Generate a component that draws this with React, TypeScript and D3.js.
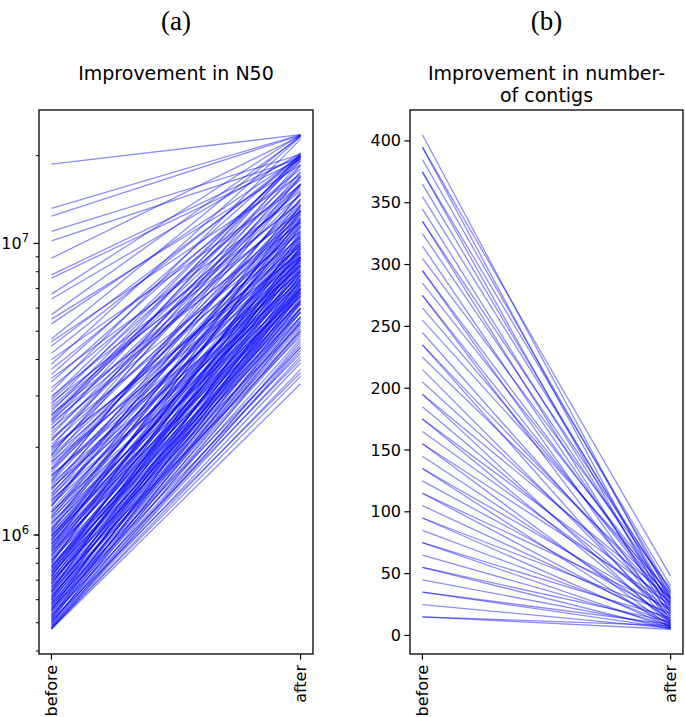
import React from "react";
import * as d3 from "d3";

// Panel (a): N50 before / after (in Mbp)
const n50BeforeMb = [
  18.7, 13.2, 12.4, 11.0, 10.2, 8.9, 7.8, 7.6, 6.7, 6.45, 5.7, 5.5, 5.3, 4.7, 4.6, 4.45, 4.2, 4.0,
  3.85, 3.7, 3.55, 3.45, 3.35, 3.2, 3.1, 3.0, 2.95, 2.9, 2.85, 2.8, 2.75, 2.7, 2.65, 2.6, 2.58, 2.55, 2.5, 2.48, 2.45, 2.42,
  2.38, 2.33, 2.3, 2.25, 2.2, 2.15, 2.1, 2.05, 2.0, 1.97, 1.94, 1.9, 1.87, 1.84, 1.8, 1.77, 1.74, 1.7, 1.67, 1.64,
  1.61, 1.58, 1.55, 1.52, 1.5, 1.47, 1.44, 1.42, 1.39, 1.36, 1.34, 1.31, 1.29, 1.27, 1.25, 1.22, 1.2, 1.18, 1.16,
  1.14, 1.12, 1.1, 1.08, 1.06, 1.04, 1.03, 1.02, 1.01, 1.0,
  0.99, 0.98, 0.97, 0.96, 0.95, 0.94, 0.93, 0.92, 0.91, 0.9, 0.89, 0.88, 0.87, 0.86, 0.85, 0.84, 0.83, 0.82, 0.81,
  0.8, 0.79, 0.78, 0.775, 0.77, 0.76, 0.75, 0.745, 0.74, 0.73, 0.725, 0.72, 0.71, 0.705, 0.7, 0.69, 0.685, 0.68,
  0.67, 0.665, 0.66, 0.65, 0.645, 0.64, 0.635, 0.63, 0.62, 0.615, 0.61, 0.605, 0.6, 0.595, 0.59, 0.585, 0.58,
  0.575, 0.57, 0.565, 0.56, 0.555, 0.55, 0.545, 0.54, 0.535, 0.53, 0.525, 0.52, 0.515, 0.51, 0.505, 0.5, 0.498,
  0.495, 0.49, 0.487, 0.484, 0.481, 0.478, 0.476, 0.475,
  0.52, 0.55, 0.58, 0.6, 0.62, 0.64, 0.66, 0.68, 0.7, 0.72, 0.74, 0.76, 0.78, 0.8, 0.82, 0.85, 0.88, 0.9, 0.93, 0.96,
  0.99, 1.05, 1.1, 1.15, 1.2, 1.26, 1.32, 1.38, 1.45, 1.53, 1.6, 1.68, 1.78, 1.88, 2.0, 2.12, 0.51, 0.53, 0.56, 0.48,
];
const n50AfterMb = [
  23.6, 23.6, 23.5, 20.2, 19.6, 23.4, 20.0, 19.4, 23.6, 20.4, 23.2, 18.6, 19.9, 23.5, 17.2, 19.6, 20.1, 15.8,
  23.3, 18.0, 20.3, 14.6, 19.2, 16.5, 22.8, 13.8, 19.8, 17.5, 12.9, 20.0, 15.2, 14.0, 19.5, 11.8, 17.0, 16.0, 20.3, 13.2, 18.6, 12.3,
  15.5, 11.0, 19.9, 13.6, 16.8, 10.5, 14.8, 12.0, 19.2, 9.8, 13.0, 15.8, 11.4, 10.1, 17.6, 12.6, 9.4, 14.2, 11.0, 13.5,
  9.0, 10.6, 16.0, 12.2, 8.7, 11.8, 9.9, 14.8, 10.4, 8.4, 12.8, 9.6, 11.2, 8.1, 13.4, 10.0, 8.8, 12.0, 9.2,
  7.8, 10.8, 8.5, 11.6, 7.6, 9.6, 13.0, 8.2, 10.2, 7.4,
  9.0, 11.4, 7.9, 8.6, 10.0, 7.2, 9.4, 12.2, 8.0, 7.0, 9.8, 8.4, 6.9, 10.6, 7.7, 8.9, 6.7, 9.3, 7.4,
  11.0, 6.6, 8.2, 7.1, 9.6, 6.4, 8.0, 7.0, 10.2, 6.3, 7.8, 8.8, 6.2, 7.3, 9.2, 6.0, 7.6, 6.8,
  8.6, 5.9, 7.2, 6.6, 9.8, 5.8, 7.0, 6.4, 8.1, 5.6, 6.9, 7.5, 5.5, 6.2, 8.4, 5.4, 6.7,
  7.2, 5.3, 6.0, 7.8, 5.2, 6.5, 5.0, 7.0, 5.8, 4.9, 6.3, 4.7, 5.6, 6.8, 4.5, 5.4, 4.3,
  6.0, 4.1, 5.1, 3.9, 4.6, 3.7, 4.4, 3.3,
  7.5, 8.8, 4.4, 9.6, 5.0, 10.8, 4.8, 8.9, 5.3, 11.5, 5.6, 9.0, 5.8, 12.8, 6.0, 10.4, 6.3, 13.5, 6.6, 11.8,
  6.8, 14.2, 7.0, 12.5, 7.3, 15.0, 7.5, 12.0, 8.0, 17.0, 8.3, 13.0, 9.0, 18.5, 9.3, 16.0, 3.6, 4.0, 4.2, 3.5,
];

// Panel (b): number of contigs before / after
const contigBefore = [
  405, 395, 395, 385, 375, 375, 365, 355, 345, 335, 335, 325, 315, 305, 295, 295, 285, 275, 275, 265,
  255, 245, 235, 235, 225, 215, 205, 195, 195, 185, 175, 175, 165, 155, 155, 145, 135, 135, 125, 115,
  115, 105, 95, 95, 85, 75, 75, 65, 55, 55, 45, 35, 35, 25, 15, 15,
];
const contigAfter = [
  30, 48, 22, 35, 40, 18, 28, 33, 25, 36, 15, 30, 20, 38, 27, 12, 32, 24, 10, 29,
  34, 19, 26, 9, 31, 14, 23, 30, 8, 17, 27, 11, 21, 25, 7, 13, 20, 6, 16, 22,
  9, 12, 18, 7, 10, 14, 6, 8, 11, 5, 7, 9, 6, 6, 8, 5,
];

const categories = ["before", "after"];
const panelLabels = ["(a)", "(b)"];
const titleA = ["Improvement in N50"];
const titleB = ["Improvement in number-", "of contigs"];
const contigTicks = [0, 50, 100, 150, 200, 250, 300, 350, 400];

const W = 685;
const H = 717;
const FONT = "DejaVu Sans, sans-serif";
const LINE = "#0000ff";
const ALPHA = 0.45;

function XAxis({ x, y0 }: { x: (c: string) => number; y0: number }) {
  return (
    <g>
      {categories.map((c) => (
        <g key={c}>
          <line x1={x(c)} x2={x(c)} y1={y0} y2={y0 + 5.6} stroke="#000" strokeWidth={1.2} />
          <text
            transform={`translate(${x(c)},${y0 + 11}) rotate(-90)`}
            textAnchor="end"
            dominantBaseline="central"
            fontFamily={FONT}
            fontSize={16}
          >
            {c}
          </text>
        </g>
      ))}
    </g>
  );
}

export default function App() {
  // ---------- Panel (a) ----------
  const a = { left: 39, right: 313, top: 110, bottom: 654 };
  const n50 = n50BeforeMb.map((b, i) => ({ before: b * 1e6, after: n50AfterMb[i] * 1e6 }));
  const allA = n50.flatMap((d) => [d.before, d.after]);
  const lmin = Math.log10(d3.min(allA)!);
  const lmax = Math.log10(d3.max(allA)!);
  const lm = (lmax - lmin) * 0.05;
  const yA = d3.scaleLog().domain([10 ** (lmin - lm), 10 ** (lmax + lm)]).range([a.bottom, a.top]);
  const xA = d3.scaleLinear().domain([-0.05, 1.05]).range([a.left, a.right]);
  const catX = (sx: d3.ScaleLinear<number, number>) => (c: string) => sx(categories.indexOf(c));
  const lineA = d3
    .line<[number, number]>()
    .x((d) => xA(d[0]))
    .y((d) => yA(d[1]));
  const [dA0, dA1] = yA.domain();
  const minorA: number[] = [];
  for (let e = 5; e <= 7; e++) {
    for (let m = 1; m <= 9; m++) {
      const v = m * 10 ** e;
      if (v >= dA0 && v <= dA1) minorA.push(v);
    }
  }
  const majorA = [1e6, 1e7];

  // ---------- Panel (b) ----------
  const b = { left: 410, right: 683, top: 110, bottom: 654 };
  const allB = [...contigBefore, ...contigAfter];
  const bmin = d3.min(allB)!;
  const bmax = d3.max(allB)!;
  const bm = (bmax - bmin) * 0.05;
  const yB = d3.scaleLinear().domain([bmin - bm, bmax + bm]).range([b.bottom, b.top]);
  const xB = d3.scaleLinear().domain([-0.05, 1.05]).range([b.left, b.right]);
  const lineB = d3
    .line<[number, number]>()
    .x((d) => xB(d[0]))
    .y((d) => yB(d[1]));

  return (
    <svg
      width={W}
      height={H}
      style={{ position: "absolute", left: 0, top: 0, background: "#fff" }}
      xmlns="http://www.w3.org/2000/svg"
    >
      <rect x={0} y={0} width={W} height={H} fill="#fff" />
      {/* panel labels */}
      <text x={(a.left + a.right) / 2} y={30} textAnchor="middle" fontFamily="Liberation Serif, Times New Roman, serif" fontSize={27}>
        {panelLabels[0]}
      </text>
      <text x={(b.left + b.right) / 2} y={30} textAnchor="middle" fontFamily="Liberation Serif, Times New Roman, serif" fontSize={27}>
        {panelLabels[1]}
      </text>

      {/* titles */}
      {titleA.map((t, i) => (
        <text key={t} x={(a.left + a.right) / 2} y={80 + i * 22} textAnchor="middle" fontFamily={FONT} fontSize={19}>
          {t}
        </text>
      ))}
      {titleB.map((t, i) => (
        <text key={t} x={(b.left + b.right) / 2} y={80 + i * 22} textAnchor="middle" fontFamily={FONT} fontSize={19}>
          {t}
        </text>
      ))}

      {/* Panel (a) lines */}
      <g>
        {n50.map((d, i) => (
          <path
            key={i}
            d={lineA([
              [0, d.before],
              [1, d.after],
            ])!}
            fill="none"
            stroke={LINE}
            strokeOpacity={ALPHA}
            strokeWidth={1.3}
          />
        ))}
      </g>
      {/* Panel (a) axes */}
      <rect x={a.left} y={a.top} width={a.right - a.left} height={a.bottom - a.top} fill="none" stroke="#000" strokeWidth={1.3} />
      {minorA.map((v) => (
        <line key={v} x1={a.left} x2={a.left - 3.2} y1={yA(v)} y2={yA(v)} stroke="#000" strokeWidth={1} />
      ))}
      {majorA.map((v) => (
        <g key={v}>
          <line x1={a.left} x2={a.left - 5.6} y1={yA(v)} y2={yA(v)} stroke="#000" strokeWidth={1.2} />
          <text x={a.left - 10} y={yA(v) + 6} textAnchor="end" fontFamily={FONT} fontSize={16}>
            10
            <tspan dy={-7} fontSize={11.5}>
              {Math.round(Math.log10(v))}
            </tspan>
          </text>
        </g>
      ))}
      <XAxis x={catX(xA)} y0={a.bottom} />

      {/* Panel (b) lines */}
      <g>
        {contigBefore.map((v, i) => (
          <path
            key={i}
            d={lineB([
              [0, v],
              [1, contigAfter[i]],
            ])!}
            fill="none"
            stroke={LINE}
            strokeOpacity={ALPHA}
            strokeWidth={1.3}
          />
        ))}
      </g>
      <rect x={b.left} y={b.top} width={b.right - b.left} height={b.bottom - b.top} fill="none" stroke="#000" strokeWidth={1.3} />
      {contigTicks.map((v) => (
        <g key={v}>
          <line x1={b.left} x2={b.left - 5.6} y1={yB(v)} y2={yB(v)} stroke="#000" strokeWidth={1.2} />
          <text x={b.left - 9} y={yB(v)} textAnchor="end" dominantBaseline="central" fontFamily={FONT} fontSize={16}>
            {v}
          </text>
        </g>
      ))}
      <XAxis x={catX(xB)} y0={b.bottom} />
    </svg>
  );
}
